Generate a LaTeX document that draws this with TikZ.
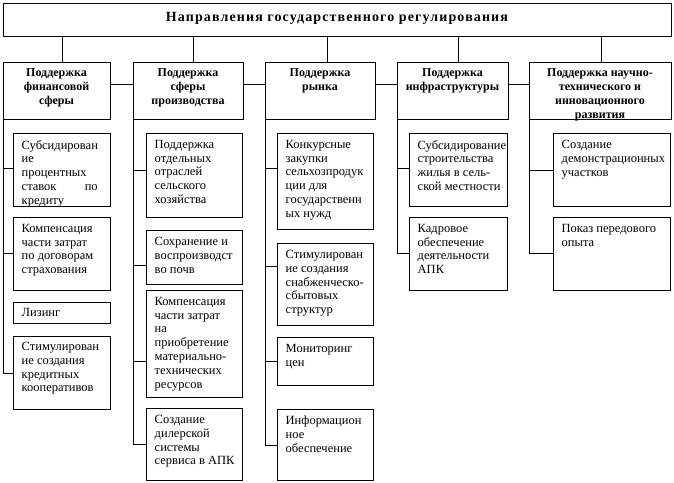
\documentclass[tikz,border=0pt]{standalone}
\usepackage{fontspec}
\setmainfont{Liberation Serif}
\newcommand\cf{\fontsize{12.5}{13.8}\selectfont}
\newcommand\lf{\fontsize{12}{14}\selectfont\bfseries}
\newcommand\tf{\fontsize{14}{16}\selectfont\bfseries\addfontfeatures{LetterSpace=8}}
\begin{document}
\begin{tikzpicture}[x=1pt,y=-1pt,
  box/.style={draw, line width=1pt, inner sep=0pt, outer sep=0pt, anchor=north west},
  ctext/.style={anchor=north west, inner sep=0pt, align=left, font=\cf},
  ltext/.style={anchor=north, inner sep=0pt, align=center, font=\lf},
  link/.style={line width=1pt}]
\useasboundingbox (0,0) rectangle (674,482);

% top
\node[box, minimum width=668, minimum height=33] (top) at (3,3) {};
\node[font=\tf, inner sep=0pt] (toptext) at ([yshift=1pt]top.center) {Направления государственного регулирования};

% level 2
\node[box, minimum width=107, minimum height=57] (L1) at (3,62) {};
\node[box, minimum width=110, minimum height=57] (L2) at (133,62) {};
\node[box, minimum width=110, minimum height=57] (L3) at (265,62) {};
\node[box, minimum width=111, minimum height=57] (L4) at (397,62) {};
\node[box, minimum width=142, minimum height=57] (L5) at (529,62) {};
\node[ltext] (L1t) at ([yshift=-6.5pt]L1.north) {Поддержка\\финансовой\\сферы};
\node[ltext] (L2t) at ([yshift=-6.5pt]L2.north) {Поддержка\\сферы\\производства};
\node[ltext] (L3t) at ([yshift=-6.5pt]L3.north) {Поддержка\\рынка};
\node[ltext] (L4t) at ([yshift=-6.5pt]L4.north) {Поддержка\\инфраструктуры};
\node[ltext] (L5t) at ([yshift=-6.5pt]L5.north) {Поддержка научно-\\технического и\\инновационного\\развития};

% top connectors
\coordinate (v1) at (62,0);
\coordinate (v2) at (193,0);
\coordinate (v3) at (327,0);
\coordinate (v4) at (458,0);
\coordinate (v5) at (601,0);
\foreach \i in {1,...,5} \draw[link] (top.south -| v\i) -- (L\i.north -| v\i);
\coordinate (h) at (0,84);
\draw[link] (L1.east |- h) -- (L2.west |- h);
\draw[link] (L2.east |- h) -- (L3.west |- h);
\draw[link] (L3.east |- h) -- (L4.west |- h);
\draw[link] (L4.east |- h) -- (L5.west |- h);

% column 1
\node[box, minimum width=97, minimum height=73] (K11) at (13,133) {};
\node[box, minimum width=97, minimum height=73] (K12) at (13,217) {};
\node[box, minimum width=97, minimum height=21] (K13) at (13,302) {};
\node[box, minimum width=97, minimum height=73] (K14) at (13,336) {};
\node[ctext] (K11t) at ([xshift=8.5pt,yshift=-7pt]K11.north west) {Субсидирован\\ие\\процентных\\\makebox[76pt][s]{ставок\hfill по}\\кредиту};
\node[ctext] (K12t) at ([xshift=8.5pt,yshift=-7pt]K12.north west) {Компенсация\\части затрат\\по договорам\\страхования};
\node[ctext] (K13t) at ([xshift=8.5pt,yshift=-6pt]K13.north west) {Лизинг};
\node[ctext] (K14t) at ([xshift=8.5pt,yshift=-6pt]K14.north west) {Стимулирован\\ие создания\\кредитных\\кооперативов};
\coordinate (b11) at (3,168);
\coordinate (b12) at (3,253);
\coordinate (b14) at (3,373);
\draw[link] (L1.south west) -- (b14);
\draw[link] (b11) -- (K11.west |- b11);
\draw[link] (b12) -- (K12.west |- b12);
\draw[link] (b14) -- (K14.west |- b14);

% column 2
\node[box, minimum width=96, minimum height=84] (K21) at (146,133) {};
\node[box, minimum width=96, minimum height=54] (K22) at (146,230) {};
\node[box, minimum width=96, minimum height=107] (K23) at (146,290) {};
\node[box, minimum width=96, minimum height=72] (K24) at (146,408) {};
\node[ctext] (K21t) at ([xshift=8.5pt,yshift=-7pt]K21.north west) {Поддержка\\отдельных\\отраслей\\сельского\\хозяйства};
\node[ctext] (K22t) at ([xshift=8.5pt,yshift=-7pt]K22.north west) {Сохранение и\\воспроизводст\\во почв};
\node[ctext] (K23t) at ([xshift=8.5pt,yshift=-7pt]K23.north west) {Компенсация\\части затрат\\на\\приобретение\\материально-\\технических\\ресурсов};
\node[ctext] (K24t) at ([xshift=8.5pt,yshift=-7pt]K24.north west) {Создание\\дилерской\\системы\\сервиса в АПК};
\coordinate (b21) at (133,170);
\coordinate (b22) at (133,265);
\coordinate (b23) at (133,361);
\coordinate (b24) at (133,444);
\draw[link] (L2.south west) -- (b24);
\draw[link] (b21) -- (K21.west |- b21);
\draw[link] (b22) -- (K22.west |- b22);
\draw[link] (b23) -- (K23.west |- b23);
\draw[link] (b24) -- (K24.west |- b24);

% column 3
\node[box, minimum width=96, minimum height=96] (K31) at (277,133) {};
\node[box, minimum width=96, minimum height=82] (K32) at (277,243) {};
\node[box, minimum width=96, minimum height=48] (K33) at (277,337) {};
\node[box, minimum width=96, minimum height=71] (K34) at (277,409) {};
\node[ctext] (K31t) at ([xshift=8.5pt,yshift=-7pt]K31.north west) {Конкурсные\\закупки\\сельхозпродук\\ции для\\государственн\\ых нужд};
\node[ctext] (K32t) at ([xshift=8.5pt,yshift=-7pt]K32.north west) {Стимулирован\\ие создания\\снабженческо-\\сбытовых\\структур};
\node[ctext] (K33t) at ([xshift=8.5pt,yshift=-7pt]K33.north west) {Мониторинг\\цен};
\node[ctext] (K34t) at ([xshift=8.5pt,yshift=-7pt]K34.north west) {Информацион\\ное\\обеспечение};
\coordinate (b31) at (265,168);
\coordinate (b32) at (265,266);
\coordinate (b33) at (265,361);
\coordinate (b34) at (265,445);
\draw[link] (L3.south west) -- (b34);
\draw[link] (b31) -- (K31.west |- b31);
\draw[link] (b32) -- (K32.west |- b32);
\draw[link] (b33) -- (K33.west |- b33);
\draw[link] (b34) -- (K34.west |- b34);

% column 4
\node[box, minimum width=98, minimum height=73] (K41) at (409,133) {};
\node[box, minimum width=98, minimum height=73] (K42) at (409,217) {};
\node[ctext] (K41t) at ([xshift=8.5pt,yshift=-7pt]K41.north west) {Субсидирование\\строительства\\жилья в сель-\\ской местности};
\node[ctext] (K42t) at ([xshift=8.5pt,yshift=-7pt]K42.north west) {Кадровое\\обеспечение\\деятельности\\АПК};
\coordinate (b41) at (397,168);
\coordinate (b42) at (397,253);
\draw[link] (L4.south west) -- (b42);
\draw[link] (b41) -- (K41.west |- b41);
\draw[link] (b42) -- (K42.west |- b42);

% column 5
\node[box, minimum width=117, minimum height=73] (K51) at (553,133) {};
\node[box, minimum width=117, minimum height=73] (K52) at (553,217) {};
\node[ctext] (K51t) at ([xshift=8.5pt,yshift=-7pt]K51.north west) {Создание\\демонстрационных\\участков};
\node[ctext] (K52t) at ([xshift=8.5pt,yshift=-7pt]K52.north west) {Показ передового\\опыта};
\coordinate (b51) at (529,170);
\coordinate (b52) at (529,253);
\draw[link] (L5.south west) -- (b52);
\draw[link] (b51) -- (K51.west |- b51);
\draw[link] (b52) -- (K52.west |- b52);
\end{tikzpicture}
\end{document}
